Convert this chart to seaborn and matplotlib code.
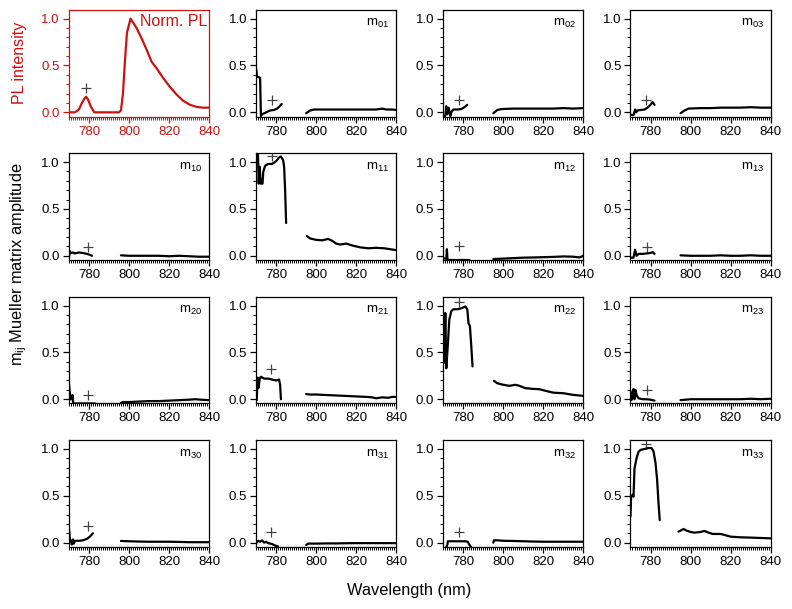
import numpy as np
import pandas as pd
import matplotlib
matplotlib.use("Agg")
import matplotlib.pyplot as plt
import seaborn as sns
from matplotlib.ticker import MultipleLocator

# ---------------- data ----------------
pl_wl = [770, 773, 775, 776.5, 778, 778.6, 779.5, 781, 782.7, 785, 790, 795, 796, 797, 798, 799,
         800.8, 802, 803.8, 806.3, 808.8, 811.3, 813.8, 817, 820.5, 823.8, 827, 830.5, 834, 837, 840]
pl_val = [0, 0, 0.03, 0.1, 0.155, 0.165, 0.14, 0.06, 0, 0, 0, 0, 0.02, 0.2, 0.55, 0.85,
          1.0, 0.96, 0.9, 0.79, 0.67, 0.54, 0.47, 0.37, 0.27, 0.19, 0.125, 0.08, 0.057, 0.05, 0.05]

m01_wl_a = [770, 770.5, 772, 772.4, 773, 774, 775, 777, 779, 780.5, 782, 782.8]
m01_a = [0.47, 0.38, 0.37, -0.04, -0.02, -0.01, 0.0, 0.02, 0.025, 0.04, 0.07, 0.09]
m01_wl_b = [795, 797, 799, 805, 810, 815, 820, 825, 830, 833, 835, 838, 840]
m01_b = [-0.01, 0.02, 0.03, 0.03, 0.03, 0.03, 0.03, 0.03, 0.03, 0.04, 0.03, 0.03, 0.025]

m02_wl_a = [770, 771, 771.5, 772, 772.7, 773.5, 774, 775, 777, 779, 780.5, 782]
m02_a = [-0.04, -0.04, 0.065, -0.02, 0.05, -0.04, 0.0, 0.03, 0.03, 0.035, 0.055, 0.08]
m02_wl_b = [795, 797, 799, 805, 810, 815, 820, 825, 830, 835, 840]
m02_b = [-0.01, 0.025, 0.035, 0.04, 0.04, 0.04, 0.04, 0.04, 0.045, 0.04, 0.045]

m03_wl_a = [770, 771.5, 772.3, 772.8, 773.5, 775, 777, 778.5, 780, 781, 782]
m03_a = [-0.025, -0.03, 0.03, 0.0, 0.02, 0.025, 0.03, 0.05, 0.08, 0.11, 0.08]
m03_wl_b = [795, 797, 799, 805, 810, 815, 820, 825, 830, 835, 840]
m03_b = [-0.01, 0.02, 0.04, 0.045, 0.045, 0.05, 0.05, 0.05, 0.055, 0.05, 0.05]

m10_wl_a = [770, 770.5, 771, 772, 773, 775, 777, 779, 780.5, 781.5]
m10_a = [-0.02, 0.05, 0.03, 0.035, 0.025, 0.035, 0.03, 0.02, 0.01, 0.0]
m10_wl_b = [796, 800, 805, 810, 815, 820, 825, 830, 835, 840]
m10_b = [0.005, 0.0, 0.0, 0.0, 0.0, -0.005, 0.0, -0.005, -0.01, -0.01]

m11_wl_a = [770.8, 771.3, 771.8, 772.3, 773.2, 773.6, 774.5, 776, 778, 780, 781.5, 782.4, 783.5, 784, 784.5, 785]
m11_a = [1.2, 0.77, 0.95, 0.77, 0.77, 0.9, 0.96, 0.98, 0.98, 1.01, 1.05, 1.06, 1.02, 0.95, 0.7, 0.35]
m11_wl_b = [795.4, 797, 800, 803, 806, 808, 810, 812, 815, 818, 822, 826, 830, 834, 837, 840]
m11_b = [0.21, 0.185, 0.17, 0.165, 0.18, 0.16, 0.13, 0.12, 0.13, 0.11, 0.09, 0.08, 0.085, 0.08, 0.07, 0.06]

m12_wl_a = [770, 771.5, 771.8, 772.1, 775, 780, 783]
m12_a = [-0.03, -0.03, 0.07, -0.045, -0.045, -0.045, -0.045]
m12_wl_b = [795, 800, 805, 810, 815, 820, 825, 830, 835, 838, 840]
m12_b = [-0.035, -0.03, -0.025, -0.02, -0.018, -0.015, -0.012, -0.007, -0.01, -0.018, 0.0]

m13_wl_a = [770, 771.5, 772.3, 773, 774, 776, 778, 780, 781, 782]
m13_a = [-0.02, -0.02, 0.065, 0.0, 0.02, 0.02, 0.025, 0.03, 0.04, 0.02]
m13_wl_b = [795, 800, 805, 810, 815, 820, 825, 830, 835, 840]
m13_b = [0.005, 0.0, 0.0, 0.0, 0.005, 0.0, 0.0, 0.005, 0.0, 0.0]

m20_wl_a = [770, 770.8, 771.4, 771.8, 772.2, 776, 780, 783]
m20_a = [0.17, 0.0, 0.0, 0.045, -0.045, -0.045, -0.045, -0.045]
m20_wl_b = [796, 797, 800, 805, 810, 815, 820, 825, 830, 833, 836, 840]
m20_b = [-0.04, -0.03, -0.03, -0.025, -0.02, -0.02, -0.015, -0.01, -0.005, 0.0, -0.005, -0.01]

m21_wl_a = [770.3, 770.8, 771.2, 771.8, 772.4, 774, 776, 778, 780, 781.5, 782, 782.4]
m21_a = [-0.01, 0.23, 0.12, 0.22, 0.24, 0.22, 0.22, 0.21, 0.2, 0.21, 0.15, 0.0]
m21_wl_b = [795, 797, 800, 805, 810, 815, 820, 825, 828, 830, 833, 836, 838, 840]
m21_b = [0.055, 0.05, 0.05, 0.045, 0.04, 0.035, 0.03, 0.025, 0.02, 0.01, 0.02, 0.015, 0.025, 0.025]

m22_wl_a = [770, 770.5, 771, 771.5, 772.2, 773, 774, 775, 777, 779, 781, 782, 782.6, 783.3, 784, 784.6]
m22_a = [0.92, 0.39, 0.92, 0.33, 0.56, 0.85, 0.94, 0.96, 0.96, 0.97, 0.99, 0.96, 0.81, 0.78, 0.56, 0.35]
m22_wl_b = [795.3, 797, 800, 803, 806, 808, 811, 815, 818, 821, 825, 830, 835, 840]
m22_b = [0.196, 0.17, 0.154, 0.143, 0.154, 0.143, 0.118, 0.11, 0.107, 0.09, 0.07, 0.064, 0.046, 0.036]

m23_wl_a = [770, 770.5, 771, 771.5, 772, 772.5, 773, 774, 776, 778, 780, 782]
m23_a = [0.08, -0.01, 0.07, 0.11, 0.0, 0.1, 0.045, 0.01, 0.0, 0.0, -0.005, -0.015]
m23_wl_b = [795, 800, 805, 810, 815, 820, 825, 830, 835, 840]
m23_b = [-0.01, 0.0, 0.0, 0.0, 0.0, 0.0, 0.0, 0.005, 0.0, 0.005]

m30_wl_a = [770, 770.5, 771, 771.5, 772, 772.5, 773, 775, 777, 779, 780.5, 782]
m30_a = [0.16, 0.035, 0.02, -0.02, 0.035, -0.01, 0.02, 0.02, 0.025, 0.04, 0.065, 0.1]
m30_wl_b = [796, 800, 805, 810, 815, 820, 825, 830, 835, 840]
m30_b = [0.018, 0.015, 0.012, 0.01, 0.01, 0.01, 0.008, 0.005, 0.005, 0.005]

m31_wl_a = [770, 771, 772, 773, 774, 775, 776, 777, 778, 779, 780, 781]
m31_a = [-0.01, 0.02, 0.01, 0.025, 0.0, 0.01, -0.005, -0.01, -0.015, -0.025, -0.035, -0.04]
m31_wl_b = [795, 796, 800, 805, 810, 815, 820, 825, 830, 835, 840]
m31_b = [-0.025, -0.01, -0.01, -0.008, -0.008, -0.006, -0.005, -0.005, -0.005, -0.005, -0.005]

m32_wl_a = [771.5, 772, 772.3, 775, 778, 781, 782.2, 783, 783.8]
m32_a = [-0.045, -0.025, 0.015, 0.015, 0.015, 0.015, 0.01, -0.02, -0.045]
m32_wl_b = [795, 795.3, 797, 800, 805, 810, 815, 820, 825, 830, 835, 840]
m32_b = [0.0, 0.025, 0.025, 0.02, 0.018, 0.015, 0.012, 0.01, 0.01, 0.01, 0.01, 0.01]

m33_wl_a = [770, 770.3, 771, 771.5, 772, 773, 774, 775, 777, 779, 780.5, 781.5, 782.5, 783.3, 784, 784.6]
m33_a = [0.28, 0.49, 0.51, 0.49, 0.79, 0.9, 0.97, 0.99, 1.0, 1.01, 1.01, 0.975, 0.85, 0.67, 0.42, 0.24]
m33_wl_b = [794, 795, 796.5, 798, 800, 802, 805, 807, 809, 811, 815, 817, 820, 825, 830, 835, 840]
m33_b = [0.118, 0.129, 0.146, 0.129, 0.114, 0.107, 0.114, 0.125, 0.107, 0.093, 0.093, 0.082, 0.064,
         0.057, 0.054, 0.05, 0.046]

panel_labels = ["PL", "01", "02", "03", "10", "11", "12", "13",
                "20", "21", "22", "23", "30", "31", "32", "33"]
plus_wl = [778.5, 777.8, 778, 777.5, 779.5, 777.8, 777.8, 778,
           779.5, 777.3, 778, 778, 779.5, 777.3, 777.8, 777.5]
plus_val = [0.26, 0.135, 0.135, 0.135, 0.095, 1.06, 0.1, 0.095,
            0.045, 0.32, 1.035, 0.1, 0.18, 0.115, 0.115, 1.05]

x_ticks = [780, 800, 820, 840]
y_ticks = [0.0, 0.5, 1.0]

segments = {
    "01": (m01_wl_a, m01_a, m01_wl_b, m01_b), "02": (m02_wl_a, m02_a, m02_wl_b, m02_b),
    "03": (m03_wl_a, m03_a, m03_wl_b, m03_b), "10": (m10_wl_a, m10_a, m10_wl_b, m10_b),
    "11": (m11_wl_a, m11_a, m11_wl_b, m11_b), "12": (m12_wl_a, m12_a, m12_wl_b, m12_b),
    "13": (m13_wl_a, m13_a, m13_wl_b, m13_b), "20": (m20_wl_a, m20_a, m20_wl_b, m20_b),
    "21": (m21_wl_a, m21_a, m21_wl_b, m21_b), "22": (m22_wl_a, m22_a, m22_wl_b, m22_b),
    "23": (m23_wl_a, m23_a, m23_wl_b, m23_b), "30": (m30_wl_a, m30_a, m30_wl_b, m30_b),
    "31": (m31_wl_a, m31_a, m31_wl_b, m31_b), "32": (m32_wl_a, m32_a, m32_wl_b, m32_b),
    "33": (m33_wl_a, m33_a, m33_wl_b, m33_b),
}

# ---------------- style ----------------
sns.set_theme(style="ticks")
plt.rcParams["font.family"] = ["Liberation Sans", "DejaVu Sans"]
plt.rcParams["mathtext.default"] = "regular"
plt.rcParams["axes.linewidth"] = 0.9
for k in ["text.color", "axes.labelcolor", "xtick.color", "ytick.color", "axes.edgecolor"]:
    plt.rcParams[k] = "black"

RED = "#cc1111"
fig, axes = plt.subplots(4, 4, figsize=(7.92, 6.09), dpi=100)
fig.subplots_adjust(left=0.087, right=0.973, top=0.984, bottom=0.102,
                    wspace=0.336, hspace=0.343)

for i, ax in enumerate(axes.flat):
    key = panel_labels[i]
    if key == "PL":
        df = pd.DataFrame({"wl": pl_wl, "val": pl_val, "seg": 0})
        col = RED
    else:
        wa, va, wb, vb = segments[key]
        df = pd.concat([pd.DataFrame({"wl": wa, "val": va, "seg": 0}),
                        pd.DataFrame({"wl": wb, "val": vb, "seg": 1})])
        col = "black"
    sns.lineplot(data=df, x="wl", y="val", units="seg", estimator=None, sort=False,
                 color=col, lw=1.6, ax=ax, legend=False)
    sns.scatterplot(x=[plus_wl[i]], y=[plus_val[i]], marker="+", s=45, color="#444444",
                    linewidth=0.9, ax=ax, legend=False)
    ax.set_xlim(770, 840)
    ax.set_ylim(-0.045, 1.095)
    ax.set_xticks(x_ticks)
    ax.set_yticks(y_ticks)
    ax.set_yticklabels([f"{v:.1f}" for v in y_ticks])
    ax.xaxis.set_minor_locator(MultipleLocator(1))
    ax.yaxis.set_minor_locator(MultipleLocator(0.1))
    ax.tick_params(which="major", direction="out", length=4, width=0.9, labelsize=9.5, pad=2.5,
                   colors="black")
    ax.tick_params(which="minor", direction="out", length=2, width=0.7, colors="black")
    ax.set_xlabel("")
    ax.set_ylabel("")
    for s in ax.spines.values():
        s.set_visible(True)
        s.set_linewidth(0.9)
        s.set_color("black")
    if key == "PL":
        for s in ax.spines.values():
            s.set_color(RED)
        ax.tick_params(which="both", colors=RED)
        ax.text(0.985, 0.89, "Norm. PL", transform=ax.transAxes, ha="right", va="center",
                color=RED, fontsize=11.5)
    else:
        ax.text(0.95, 0.87, "m$_{" + key + "}$", transform=ax.transAxes, ha="right",
                va="center", fontsize=9.5)

fig.text(0.024, 1 - 63 / 609, "PL intensity", rotation=90, ha="center", va="center",
         color=RED, fontsize=11.5)
fig.text(0.024, 0.566, "m$_{ij}$ Mueller matrix amplitude", rotation=90, ha="center",
         va="center", fontsize=11.8)
fig.text(0.516, 0.031, "Wavelength (nm)", ha="center", va="center", fontsize=11.8)

fig.savefig("out.png", dpi=100)
